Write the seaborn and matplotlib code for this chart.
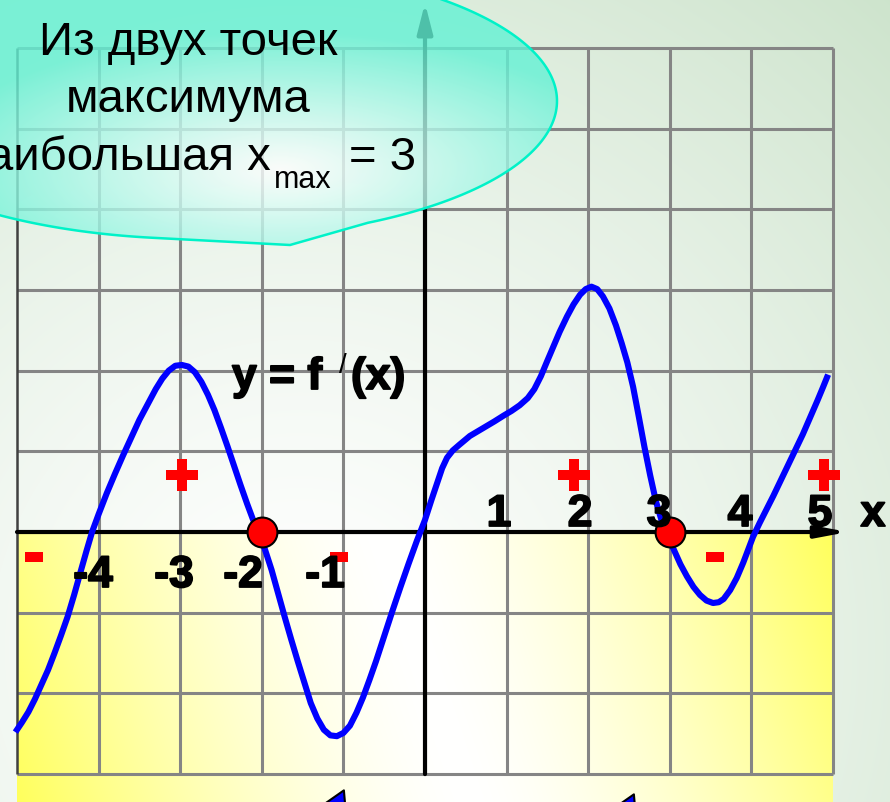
import numpy as np
import matplotlib
matplotlib.use("Agg")
import matplotlib.pyplot as plt
import matplotlib.patheffects as pe
import seaborn as sns
from matplotlib.path import Path
from matplotlib.patches import PathPatch
from matplotlib.font_manager import FontProperties

# curve y = f'(x)
curve_x = [-5.02, -4.94, -4.86, -4.78, -4.70, -4.62, -4.54, -4.46, -4.38, -4.30,
           -4.22, -4.15, -4.08, -4.00, -3.90, -3.80, -3.70, -3.60, -3.50, -3.40,
           -3.30, -3.22, -3.14, -3.06, -2.98, -2.90, -2.82, -2.74, -2.66, -2.58,
           -2.50, -2.42, -2.34, -2.26, -2.18, -2.11, -2.04, -1.96, -1.88, -1.80,
           -1.72, -1.64, -1.56, -1.48, -1.40, -1.32, -1.24, -1.16, -1.08, -1.00,
           -0.92, -0.84, -0.76, -0.68, -0.60, -0.50, -0.40, -0.30, -0.20, -0.10,
           0.00, 0.08, 0.15, 0.21, 0.27, 0.34, 0.42, 0.55, 0.70, 0.85,
           0.96, 1.06, 1.16, 1.26, 1.34, 1.42, 1.49, 1.57, 1.65, 1.74,
           1.82, 1.90, 1.97, 2.04, 2.11, 2.18, 2.26, 2.34, 2.41, 2.48,
           2.55, 2.62, 2.69, 2.76, 2.83, 2.90, 2.97, 3.05, 3.13, 3.21,
           3.29, 3.37, 3.45, 3.53, 3.60, 3.66, 3.74, 3.82, 3.90, 3.96,
           4.02, 4.10, 4.18, 4.27, 4.36, 4.45, 4.54, 4.63, 4.72, 4.81,
           4.88, 4.94]
curve_y = [-2.48, -2.36, -2.23, -2.07, -1.89, -1.71, -1.50, -1.28, -1.05, -0.78,
           -0.49, -0.24, 0.00, 0.22, 0.48, 0.72, 0.95, 1.17, 1.39, 1.58,
           1.77, 1.90, 2.00, 2.06, 2.07, 2.05, 1.98, 1.86, 1.70, 1.51,
           1.29, 1.06, 0.82, 0.58, 0.35, 0.16, 0.00, -0.22, -0.47, -0.76,
           -1.05, -1.33, -1.60, -1.86, -2.12, -2.31, -2.45, -2.52, -2.53, -2.49,
           -2.40, -2.24, -2.05, -1.83, -1.60, -1.29, -0.98, -0.68, -0.39, -0.11,
           0.15, 0.40, 0.61, 0.79, 0.92, 1.01, 1.08, 1.19, 1.28, 1.37,
           1.44, 1.50, 1.57, 1.66, 1.77, 1.93, 2.10, 2.29, 2.48, 2.67,
           2.82, 2.94, 3.01, 3.04, 3.01, 2.92, 2.77, 2.56, 2.34, 2.10,
           1.80, 1.43, 1.05, 0.70, 0.38, 0.14, -0.04, -0.22, -0.40, -0.55,
           -0.68, -0.78, -0.85, -0.88, -0.87, -0.83, -0.72, -0.57, -0.38, -0.22,
           -0.06, 0.11, 0.27, 0.45, 0.64, 0.83, 1.02, 1.21, 1.42, 1.63,
           1.80, 1.95]

# zeros where f' changes from + to - (maximum points)
max_x = [-2, 3]
max_y = [0, 0]

# sign marks
plus_x = [-2.98, 1.83, 4.89]
plus_y = [0.71, 0.71, 0.71]
minus_x = [-4.79, -1.05, 3.55]
minus_y = [-0.31, -0.31, -0.31]

grid_x = list(range(-5, 6))
grid_y = list(range(-3, 7))
neg_ticks = ["-4", "-3", "-2", "-1"]
pos_ticks = ["1", "2", "3", "4", "5"]

callout_lines = ["Из двух точек", "максимума"]


def px(xp, yp):
    # picture pixel -> data units
    return (xp - 425) / 81.6, (533 - yp) / 80.7


sns.set_theme(style="white")
plt.rcParams["font.family"] = ["Liberation Sans", "DejaVu Sans"]
plt.rcParams["text.color"] = "black"

bold = FontProperties(family="Liberation Sans", weight="bold", size=32)
reg = FontProperties(family="Liberation Sans", weight="normal", size=34)
heavy = [pe.withStroke(linewidth=1.3, foreground="black")]

fig = plt.figure(figsize=(8.9, 8.03), dpi=100)
ax = fig.add_axes([0, 0, 1, 1])
XL = (px(0, 0)[0], px(890, 0)[0])
YL = (px(0, 803)[1], px(0, 0)[1])

# background gradient
yy, xx = np.mgrid[0:803, 0:890]
t = np.clip(np.hypot(xx - 300, yy - 650) / 900, 0, 1) ** 1.3
green = np.array([0xcc, 0xe3, 0xcb]) / 255
bg = (1 - t[..., None]) + green * t[..., None]
ax.imshow(bg, extent=(XL[0], XL[1], YL[0], YL[1]), origin="upper",
          aspect="auto", zorder=0)

# yellow half below the x axis
yy2, xx2 = np.mgrid[533:803, 16:832]
proj = (xx2 - 424) * 0.949 - (yy2 - 668) * 0.314
t2 = np.clip(np.abs(proj) / 430, 0, 1) ** 1.5
yel = np.array([1.0, 1.0, 0.36])
ybg = (1 - t2[..., None]) + yel * t2[..., None]
ax.imshow(ybg, extent=(-5, 5, YL[0], 0), origin="upper", aspect="auto", zorder=0.5)

# grid
ax.vlines(grid_x[1:], -3, 6, color="#858585", lw=2.2, zorder=1)
ax.vlines(grid_x[0], -3, 6, color="#404040", lw=1.8, zorder=1.1)
ax.hlines(grid_y, -5, 5, color="#858585", lw=2.2, zorder=1)

# axes with arrows
ax.annotate("", xy=(px(848, 0)[0], 0), xytext=(-5, 0),
            arrowprops=dict(arrowstyle="-|>,head_length=0.9,head_width=0.17",
                            lw=3, color="black", mutation_scale=20,
                            shrinkA=0, shrinkB=0), zorder=2)
ax.annotate("", xy=(0, px(0, 4)[1]), xytext=(0, -3),
            arrowprops=dict(arrowstyle="-|>,head_length=0.9,head_width=0.23",
                            lw=3, color="black", mutation_scale=20,
                            shrinkA=0, shrinkB=0), zorder=2)

# the curve
sns.lineplot(x=curve_x, y=curve_y, ax=ax, color="#0000ff", lw=4.4, zorder=3,
             solid_joinstyle="round", solid_capstyle="butt")

# sign marks
h = 0.34
plus_mark = Path([(-h, -1), (h, -1), (h, -h), (1, -h), (1, h), (h, h), (h, 1),
                  (-h, 1), (-h, h), (-1, h), (-1, -h), (-h, -h), (-h, -1)],
                 closed=True)
minus_mark = Path([(-1, -0.55), (1, -0.55), (1, 0.55), (-1, 0.55), (-1, -0.55)],
                  closed=True)
sns.scatterplot(x=plus_x, y=plus_y, ax=ax, marker=plus_mark, s=23 ** 2,
                color="#ff0000", linewidth=0, zorder=4)
sns.scatterplot(x=minus_x, y=minus_y, ax=ax, marker=minus_mark, s=13 ** 2,
                color="#ff0000", linewidth=0, zorder=4)
sns.scatterplot(x=max_x, y=max_y, ax=ax, marker="o", s=21.5 ** 2,
                color="#ff0000", edgecolor="black", linewidth=1.5, zorder=5)

# partly hidden blue arrows at the bottom edge
ax.scatter([px(334, 0)[0], px(624, 0)[0]], [px(0, 811)[1], px(0, 815)[1]],
           marker=(3, 0, -25), s=32 ** 2, color="#0000ff", edgecolor="black",
           linewidth=1.5, zorder=5)

# tick labels
for lab, cx in zip(neg_ticks, [93, 174, 243, 325]):
    ax.text(px(cx, 0)[0], px(0, 588)[1], lab, ha="center", va="baseline",
            fontproperties=bold, color="black", zorder=6, path_effects=heavy)
for lab, cx in zip(pos_ticks, [499, 580, 659, 740, 820]):
    ax.text(px(cx, 0)[0], px(0, 527)[1], lab, ha="center", va="baseline",
            fontproperties=bold, color="black", zorder=6, path_effects=heavy)
ax.text(px(873, 0)[0], px(0, 527)[1], "x", ha="center", va="baseline",
        fontproperties=bold, color="black", zorder=6, path_effects=heavy)

# function label
ax.text(*px(232, 390), "y = f", ha="left", va="baseline", fontproperties=bold,
        color="black", zorder=6, path_effects=heavy)
ax.text(*px(339, 373), "/", ha="left", va="baseline", fontsize=20,
        color="black", zorder=6)
ax.text(*px(351, 390), "(x)", ha="left", va="baseline", fontproperties=bold,
        color="black", zorder=6, path_effects=heavy)

# oval callout
cxp, cyp, ea, eb = 200, 102, 357, 138
th1 = np.arccos((368 - cxp) / ea)
th2 = np.arccos((150 - cxp) / ea)
a1 = np.linspace(0, th1, 60)
a2 = np.linspace(th2, 2 * np.pi, 300)
ox = np.concatenate([cxp + ea * np.cos(a1), [290], cxp + ea * np.cos(a2)])
oy = np.concatenate([cyp + eb * np.sin(a1), [246], cyp + eb * np.sin(a2)])
verts = [px(a, b) for a, b in zip(ox, oy)]
verts.append(verts[0])
outline = Path(verts, closed=True)

r = np.hypot((xx - 280) / ea, (yy - 170) / eb)
tc = np.clip(r, 0, 1) ** 1.1
aqua = np.array([0x62, 0xf2, 0xd4]) / 255
cal = np.ones((803, 890, 4))
cal[..., :3] = (1 - tc[..., None]) + aqua * tc[..., None]
cal[..., 3] = 0.8
im = ax.imshow(cal, extent=(XL[0], XL[1], YL[0], YL[1]), origin="upper",
               aspect="auto", zorder=7)
clip_patch = PathPatch(outline, transform=ax.transData, facecolor="none",
                       edgecolor="#00f2c8", lw=1.8, zorder=7.5)
ax.add_patch(clip_patch)
im.set_clip_path(clip_patch)

for line, by in zip(callout_lines, [55, 112]):
    ax.text(*px(188, by), line, ha="center", va="baseline", fontproperties=reg,
            color="black", zorder=8)
ax.text(*px(271, 170), "наибольшая x", ha="right", va="baseline",
        fontproperties=reg, color="black", zorder=8)
ax.text(*px(274, 188), "max", ha="left", va="baseline", fontsize=22,
        color="black", zorder=8)
ax.text(*px(349, 170), "= 3", ha="left", va="baseline", fontproperties=reg,
        color="black", zorder=8)

ax.set_xlim(*XL)
ax.set_ylim(*YL)
ax.axis("off")
fig.savefig("out.png", dpi=100)
